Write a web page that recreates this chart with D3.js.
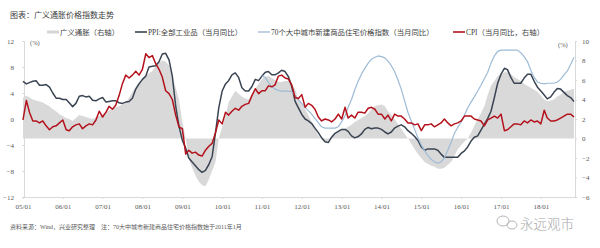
<!DOCTYPE html>
<html>
<head>
<meta charset="utf-8">
<script src="https://cdn.jsdelivr.net/npm/d3@7"></script>
<style>
  body { margin: 0; background: #fff; }
  svg text { font-family: "Liberation Serif", "Noto Sans CJK SC", serif; }
  .cjk { font-family: "Liberation Serif", "Noto Sans CJK SC", sans-serif; }
</style>
</head>
<body>
<svg id="chart"></svg>
<script>
// month range of the x axis
const startMonth = "2005-01";
const endMonth = "2018-11";
const houseStart = "2011-01"; // 70城房价 starts Jan 2011

const tickLabels = ["05/01","06/01","07/01","08/01","09/01","10/01","11/01","12/01","13/01","14/01","15/01","16/01","17/01","18/01"];
const leftTicks = [-12, -8, -4, 0, 4, 8, 12];
const rightTicks = [-6, -4, -2, 0, 2, 4, 6, 8, 10];

// 广义通胀 (right axis)
const broadInfl = [
  4.2, 4.4, 4.2, 4.0, 3.9, 3.8, 3.7, 3.5, 3.3, 3.0, 2.8, 2.5,
  2.3, 2.1, 2.0, 1.8, 2.1, 2.4, 2.3, 2.2, 2.1, 2.0, 2.2, 2.3,
  2.5, 2.7, 2.9, 3.0, 3.2, 3.3, 3.5, 3.7, 4.2, 4.8, 5.3, 5.8,
  6.1, 6.4, 6.7, 6.9, 7.4, 7.8, 8.0, 7.9, 7.5, 6.4, 5.2, 4.0,
  1.7, 0.0, -2.1, -3.0, -3.8, -4.4, -4.8, -4.9, -4.2, -3.3, -2.4, 0.0,
  1.2, 2.3, 3.7, 4.3, 4.9, 4.6, 4.3, 4.1, 4.0, 4.5, 5.1, 5.6,
  6.1, 6.3, 6.4, 6.2, 6.0, 5.8, 5.8, 5.9, 5.9, 5.6, 5.1, 4.0,
  3.6, 3.0, 2.4, 1.7, 1.0, 0.3, -0.1, -0.4, -0.2, 0.3, 0.5, 0.7,
  0.9, 1.0, 1.2, 1.4, 1.7, 1.9, 2.1, 2.3, 2.6, 3.0, 3.3, 3.4,
  3.5, 3.3, 2.8, 2.4, 2.0, 1.5, 1.0, 0.5, 0.0, -0.5, -1.1, -1.6,
  -2.0, -2.4, -2.6, -2.8, -2.9, -3.1, -3.1, -3.0, -2.7, -2.4, -1.8, -1.1,
  -0.7, -0.3, 0.0, 0.6, 1.3, 2.0, 2.6, 3.3, 4.5, 5.4, 5.9, 6.4,
  6.6, 6.8, 6.8, 6.6, 6.3, 6.1, 5.9, 5.6, 5.4, 5.2, 5.0, 4.8,
  4.4, 4.0, 3.8, 3.9, 4.0, 4.3, 4.5, 4.8, 4.9, 5.0, 5.1
];

// PPI:全部工业品 当月同比 (left axis)
const ppi = [
  5.8, 5.4, 5.6, 5.8, 5.9, 5.2, 5.2, 5.3, 4.9, 4.0, 3.2, 3.2,
  3.0, 3.0, 2.5, 1.9, 2.4, 3.5, 3.6, 3.4, 3.5, 2.9, 2.8, 3.1,
  3.3, 2.6, 2.7, 2.8, 2.8, 2.5, 2.4, 2.6, 2.7, 3.2, 4.6, 5.4,
  6.1, 6.6, 8.0, 8.1, 8.2, 8.8, 10.0, 10.1, 9.1, 6.6, 2.0, -1.1,
  -3.3, -4.5, -6.0, -6.6, -7.2, -7.8, -8.2, -7.9, -7.0, -5.8, -2.1, 1.7,
  4.3, 5.4, 5.9, 6.8, 7.1, 6.4, 4.8, 4.3, 4.3, 5.0, 6.1, 5.9,
  6.6, 7.2, 7.3, 6.8, 6.8, 7.1, 7.5, 7.3, 6.5, 5.0, 2.7, 1.7,
  0.7, 0.0, -0.3, -0.7, -1.4, -2.1, -2.9, -3.5, -3.6, -2.8, -2.2, -1.9,
  -1.6, -1.6, -1.9, -2.6, -2.9, -2.7, -2.3, -1.6, -1.3, -1.5, -1.4, -1.4,
  -1.6, -2.0, -2.3, -2.0, -1.4, -1.1, -0.9, -1.2, -1.8, -2.2, -2.7, -3.3,
  -4.3, -4.8, -4.6, -4.6, -4.6, -4.8, -5.4, -5.9, -5.9, -5.9, -5.9, -5.9,
  -5.3, -4.9, -4.3, -3.4, -2.8, -2.6, -1.7, -0.8, 0.1, 1.2, 3.3, 5.5,
  6.9, 7.8, 7.6, 6.4, 5.5, 5.5, 5.5, 6.3, 6.9, 6.9, 5.8, 4.9,
  4.3, 3.7, 3.1, 3.4, 4.1, 4.7, 4.6, 4.1, 3.6, 3.3, 2.7
];

// 70个大中城市新建商品住宅价格指数 当月同比 (left axis), from 2011-01
const housePrice = [
  6.6, 6.4, 5.6, 5.0, 4.6, 4.4, 4.3, 4.3, 4.3, 4.2, 3.6, 3.0,
  2.4, 1.8, 1.3, 0.7, 0.1, -0.6, -1.2, -1.4, -1.4, -1.4, -1.4, -1.2,
  -0.4, 0.5, 1.8, 3.0, 4.5, 5.8, 6.9, 7.8, 8.6, 9.2, 9.5, 9.7,
  9.6, 9.4, 8.9, 8.2, 7.3, 6.0, 4.6, 2.8, 1.0, -0.3, -1.6, -2.9,
  -4.0, -4.9, -5.6, -6.2, -6.6, -6.8, -6.6, -6.0, -4.8, -3.6, -2.2, -1.3,
  -0.5, 0.6, 1.7, 2.6, 3.4, 4.3, 5.2, 6.2, 7.2, 8.6, 9.7, 10.4,
  10.6, 10.6, 10.6, 10.6, 10.6, 10.6, 10.2, 9.6, 8.8, 7.5, 6.4, 5.7,
  5.5, 5.4, 5.5, 5.5, 5.5, 5.7, 6.1, 6.8, 7.4, 8.4, 9.5
];

// CPI 当月同比 (right axis)
const cpi = [
  1.9, 3.9, 2.7, 1.8, 1.8, 1.6, 1.8, 1.3, 0.9, 1.2, 1.3, 1.6,
  1.9, 0.9, 0.8, 1.2, 1.4, 1.5, 1.0, 1.3, 1.5, 1.4, 1.9, 2.8,
  2.2, 2.7, 3.3, 3.0, 3.4, 4.4, 5.6, 6.5, 6.2, 6.5, 6.9, 6.5,
  7.1, 8.7, 8.3, 8.5, 7.7, 7.1, 6.3, 4.9, 4.6, 4.0, 2.4, 1.2,
  1.0, -1.6, -1.2, -1.5, -1.4, -1.7, -1.8, -1.2, -0.8, -0.5, 0.6, 1.9,
  1.5, 2.7, 2.4, 2.8, 3.1, 2.9, 3.3, 3.5, 3.6, 4.4, 5.1, 4.6,
  4.9, 4.9, 5.4, 5.3, 5.5, 6.4, 6.5, 6.2, 6.1, 5.5, 4.2, 4.1,
  4.5, 3.2, 3.6, 3.4, 3.0, 2.2, 1.8, 2.0, 1.9, 1.7, 2.0, 2.5,
  2.0, 3.2, 2.1, 2.4, 2.1, 2.7, 2.7, 2.6, 3.1, 3.2, 3.0, 2.5,
  2.5, 2.0, 2.4, 1.8, 2.5, 2.3, 2.3, 2.0, 1.6, 1.6, 1.4, 1.5,
  0.8, 1.4, 1.4, 1.5, 1.2, 1.4, 1.6, 2.0, 1.6, 1.3, 1.5, 1.6,
  1.8, 2.3, 2.3, 2.3, 2.0, 1.9, 1.8, 1.3, 1.9, 2.1, 2.3, 2.1,
  2.5, 0.8, 0.9, 1.2, 1.5, 1.5, 1.4, 1.8, 1.6, 1.9, 1.7, 1.8,
  1.5, 2.9, 2.1, 1.8, 1.8, 1.9, 2.1, 2.3, 2.5, 2.5, 2.2
];

const legendItems = [
  { label: "广义通胀（右轴）", color: "#d6d6d6", width: 3 },
  { label: "PPI:全部工业品（当月同比）", color: "#3a4452", width: 1.6 },
  { label: "70个大中城市新建商品住宅价格指数（当月同比）", color: "#9dbbd6", width: 1.3 },
  { label: "CPI（当月同比，右轴）", color: "#b3121c", width: 1.6 }
];

class InflationChart {
  constructor(_config) {
    this.config = {
      parentElement: _config.parentElement,
      containerWidth: _config.containerWidth || 600,
      containerHeight: _config.containerHeight || 248,
      plot: { left: 24, right: 575, top: 41, bottom: 197 }
    };
    this.initVis();
  }

  initVis() {
    let vis = this;
    const p = vis.config.plot;

    vis.svg = d3.select(vis.config.parentElement)
      .attr('width', vis.config.containerWidth)
      .attr('height', vis.config.containerHeight);

    const parse = d3.timeParse("%Y-%m");
    vis.months = d3.timeMonth.range(parse(startMonth), d3.timeMonth.offset(parse(endMonth), 1));
    vis.houseOffset = d3.timeMonth.count(parse(startMonth), parse(houseStart));

    vis.xScale = d3.scaleTime()
      .domain([vis.months[0], vis.months[vis.months.length - 1]])
      .range([23, 574]);
    vis.yLeft = d3.scaleLinear().domain([-12, 12]).range([p.bottom, p.top]);
    vis.yRight = d3.scaleLinear().domain([-6, 10]).range([p.bottom, p.top]);

    // title + legend
    vis.svg.append('text')
      .attr('class', 'cjk')
      .attr('x', 10).attr('y', 18)
      .style('font-size', '8px').attr('fill', '#404040')
      .text('图表：广义通胀价格指数走势');

    const legendX = [47, 135, 258, 453];
    const legend = vis.svg.append('g');
    legendItems.forEach((d, i) => {
      legend.append('line')
        .attr('x1', legendX[i]).attr('x2', legendX[i] + 12)
        .attr('y1', 32).attr('y2', 32)
        .attr('stroke', d.color).attr('stroke-width', d.width);
      legend.append('text')
        .attr('class', 'cjk')
        .attr('x', legendX[i] + 13).attr('y', 34.5)
        .style('font-size', '7.4px').attr('fill', '#404040')
        .text(d.label);
    });

    // unit labels
    vis.svg.append('text').attr('x', 30).attr('y', 45)
      .style('font-size', '6.5px').attr('fill', '#595959').text('(%)');
    vis.svg.append('text').attr('x', 558).attr('y', 47)
      .style('font-size', '6.5px').attr('fill', '#595959').text('(%)');

    // footer
    vis.svg.append('text')
      .attr('class', 'cjk')
      .attr('x', 10).attr('y', 229)
      .style('font-size', '6px').attr('fill', '#595959')
      .attr('xml:space', 'preserve')
      .text('资料来源：Wind，兴业研究整理    注：70大中城市新建商品住宅价格指数始于2011年1月');

    // watermark logo
    const logo = vis.svg.append('g').attr('fill', 'none').attr('stroke', '#b5b5b5').attr('stroke-width', 1);
    logo.append('ellipse').attr('cx', 503).attr('cy', 221).attr('rx', 6).attr('ry', 5);
    logo.append('ellipse').attr('cx', 512).attr('cy', 225).attr('rx', 5).attr('ry', 4);
    vis.svg.append('text')
      .attr('x', 520).attr('y', 229)
      .style('font-size', '13.5px').attr('fill', '#a8a8a8')
      .style('font-family', '"Noto Sans CJK SC", sans-serif')
      .style('font-weight', 300)
      .text('永远观市');

    vis.chart = vis.svg.append('g');
    vis.updateVis();
  }

  updateVis() {
    let vis = this;
    vis.areaData = broadInfl.map((v, i) => ({ date: vis.months[i], v: v }));
    vis.ppiData = ppi.map((v, i) => ({ date: vis.months[i], v: v }));
    vis.houseData = housePrice.map((v, i) => ({ date: vis.months[i + vis.houseOffset], v: v }));
    vis.cpiData = cpi.map((v, i) => ({ date: vis.months[i], v: v }));
    vis.renderVis();
  }

  renderVis() {
    let vis = this;
    const p = vis.config.plot;

    // grey area against right axis, baseline at 0
    const area = d3.area()
      .x(d => vis.xScale(d.date))
      .y0(vis.yRight(0))
      .y1(d => vis.yRight(d.v));
    vis.chart.append('path')
      .datum(vis.areaData)
      .attr('fill', '#d9d9d9')
      .attr('d', area);

    // axes
    const axisColor = '#d9d9d9';
    const leftAxis = vis.chart.append('g')
      .attr('transform', `translate(${p.left},0)`)
      .call(d3.axisLeft(vis.yLeft).tickValues(leftTicks).tickSize(2).tickPadding(8));
    const rightAxis = vis.chart.append('g')
      .attr('transform', `translate(${p.right},0)`)
      .call(d3.axisRight(vis.yRight).tickValues(rightTicks).tickSize(2).tickPadding(5));
    const xAxis = vis.chart.append('g')
      .attr('transform', `translate(0,${p.bottom})`)
      .call(d3.axisBottom(vis.xScale)
        .tickValues(vis.months.filter(d => d.getMonth() === 0))
        .tickFormat((d, i) => tickLabels[i])
        .tickSize(2).tickPadding(5)
        .tickSizeOuter(0));
    xAxis.select('.domain').attr('d', `M${p.left},0.5H${p.right}`);

    [leftAxis, rightAxis, xAxis].forEach(g => {
      g.select('.domain').attr('stroke', axisColor);
      g.selectAll('.tick line').attr('stroke', axisColor);
      g.selectAll('.tick text')
        .attr('fill', '#595959')
        .style('font-size', '7px')
        .style('font-family', '"Liberation Serif", serif');
    });

    const lineL = d3.line().x(d => vis.xScale(d.date)).y(d => vis.yLeft(d.v));
    const lineR = d3.line().x(d => vis.xScale(d.date)).y(d => vis.yRight(d.v));

    vis.chart.append('path').datum(vis.ppiData)
      .attr('fill', 'none').attr('stroke', legendItems[1].color)
      .attr('stroke-width', 1.5).attr('stroke-linejoin', 'round')
      .attr('d', lineL);
    vis.chart.append('path').datum(vis.houseData)
      .attr('fill', 'none').attr('stroke', legendItems[2].color)
      .attr('stroke-width', 1.2).attr('stroke-linejoin', 'round')
      .attr('d', lineL);
    vis.chart.append('path').datum(vis.cpiData)
      .attr('fill', 'none').attr('stroke', legendItems[3].color)
      .attr('stroke-width', 1.5).attr('stroke-linejoin', 'round')
      .attr('d', lineR);
  }
}

new InflationChart({ parentElement: '#chart' });
</script>
</body>
</html>
